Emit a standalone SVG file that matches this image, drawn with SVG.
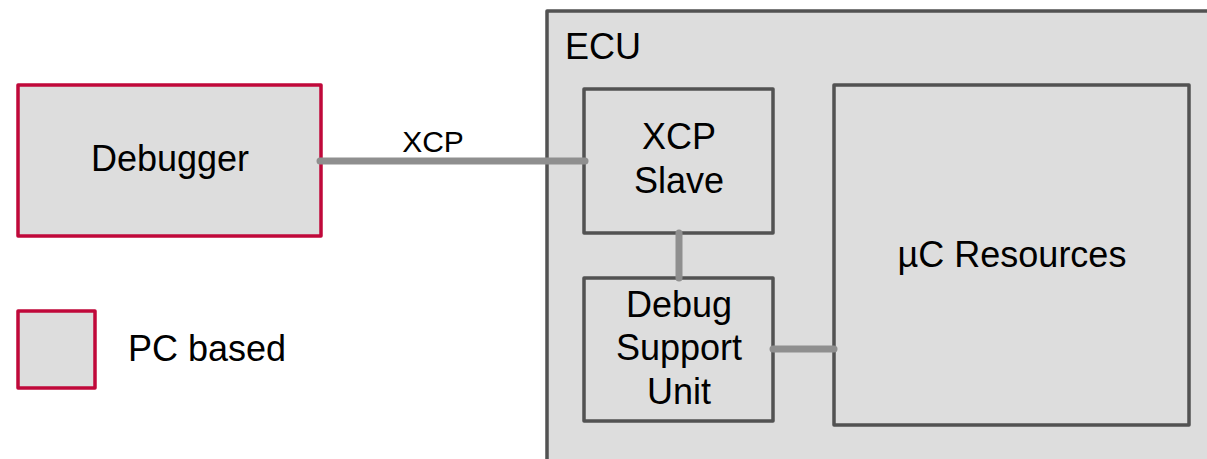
<svg xmlns="http://www.w3.org/2000/svg" width="1207" height="459" viewBox="0 0 1207 459">
<style>
.box{fill:#dddddd;stroke:#525252;stroke-width:3.5;stroke-linejoin:round}
.pc{fill:#dddddd;stroke:#c0083a;stroke-width:3.5;stroke-linejoin:round}
.t{font-family:"Liberation Sans",Arial,sans-serif;font-size:36px;fill:#000;text-anchor:middle}
.tl{font-family:"Liberation Sans",Arial,sans-serif;font-size:36px;fill:#000}
.conn{stroke:#8f8f8f;stroke-width:7;stroke-linecap:round;fill:none}
</style>
<rect width="1207" height="459" fill="#ffffff"/>
<g id="ecu">
<rect class="box" x="547" y="11" width="700" height="500"/>
<text class="tl" x="565" y="59">ECU</text>
</g>
<g id="debugger">
<rect class="pc" x="18" y="85" width="303" height="151"/>
<text class="t" x="170" y="171">Debugger</text>
</g>
<g id="xcp-slave">
<rect class="box" x="584" y="89" width="189" height="144"/>
<text class="t" x="679" y="149">XCP</text>
<text class="t" x="679" y="193">Slave</text>
</g>
<g id="dsu">
<rect class="box" x="584" y="278" width="189" height="143"/>
<text class="t" x="679" y="317">Debug</text>
<text class="t" x="679" y="360">Support</text>
<text class="t" x="679" y="404">Unit</text>
</g>
<g id="uc-resources">
<rect class="box" x="834" y="85" width="355" height="340"/>
<text class="t" x="1012" y="267">µC Resources</text>
</g>
<g id="legend">
<rect class="pc" x="18" y="311" width="77" height="77"/>
<text class="tl" x="128" y="361">PC based</text>
</g>
<g id="connectors">
<line class="conn" x1="320" y1="161" x2="585" y2="161"/>
<text x="433" y="152" font-family="'Liberation Sans',Arial,sans-serif" font-size="30" text-anchor="middle" fill="#000">XCP</text>
<line class="conn" x1="679" y1="233" x2="679" y2="278"/>
<line class="conn" x1="773" y1="349" x2="834" y2="349"/>
</g>
</svg>
